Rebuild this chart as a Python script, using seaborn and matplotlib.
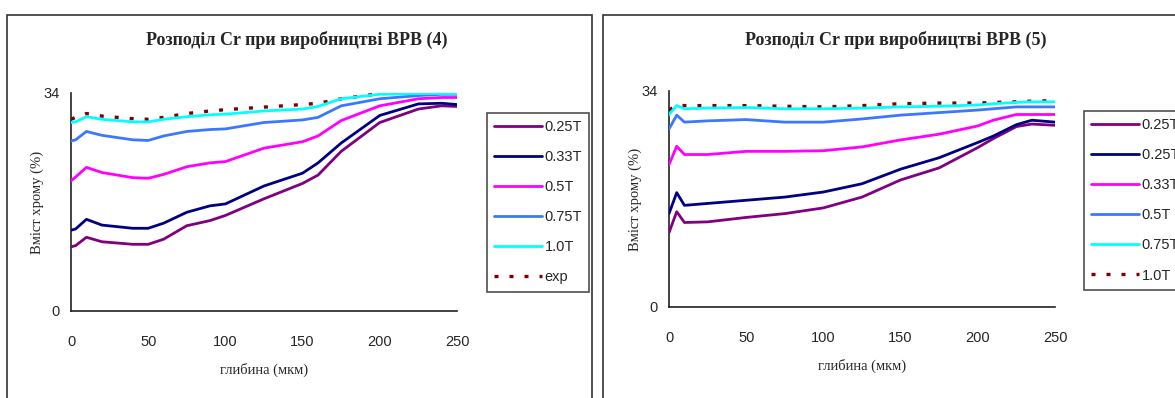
import matplotlib
matplotlib.use("Agg")
import matplotlib.pyplot as plt
from matplotlib.patches import Rectangle
import seaborn as sns
import pandas as pd

sns.set_style("white")
plt.rcParams['font.family'] = ['Liberation Sans', 'DejaVu Sans']

# ---- panel (4) ----
depth_4 = [0, 3, 10, 20, 40, 50, 60, 75, 90, 100, 125, 150, 160, 175, 200, 225, 240, 250]
cr_4 = {
    '0.25T': [10.0, 10.2, 11.5, 10.8, 10.4, 10.4, 11.2, 13.3, 14.1, 14.9, 17.5, 19.9, 21.2, 24.9, 29.4, 31.5, 32.0, 31.9],
    '0.33T': [12.6, 12.8, 14.3, 13.4, 12.9, 12.9, 13.7, 15.4, 16.4, 16.7, 19.5, 21.5, 23.1, 26.2, 30.5, 32.3, 32.4, 32.2],
    '0.5T': [20.3, 20.9, 22.4, 21.6, 20.8, 20.7, 21.3, 22.5, 23.1, 23.3, 25.4, 26.4, 27.3, 29.7, 32.0, 33.1, 33.3, 33.3],
    '0.75T': [26.5, 26.7, 28.0, 27.4, 26.7, 26.6, 27.3, 28.0, 28.3, 28.4, 29.4, 29.8, 30.2, 32.0, 33.1, 33.6, 33.8, 33.8],
    '1.0T': [29.4, 29.5, 30.3, 29.9, 29.5, 29.5, 29.9, 30.3, 30.6, 30.7, 31.2, 31.5, 31.9, 33.1, 33.8, 33.9, 33.9, 33.9],
    'exp': [29.9, 30.2, 30.8, 30.4, 30.0, 29.9, 30.2, 30.8, 31.2, 31.4, 31.8, 32.2, 32.4, 33.1, 33.9, 34.1, 34.1, 34.1],
}

# ---- panel (5) ----
depth_5 = [0, 5, 10, 25, 50, 75, 100, 125, 150, 175, 200, 210, 225, 235, 250]
labels_5 = ['0.25T', '0.25T ', '0.33T', '0.5T', '0.75T', '1.0T']
cr_5 = [
    [11.7, 15.0, 13.3, 13.4, 14.1, 14.7, 15.6, 17.3, 20.0, 21.9, 25.1, 26.5, 28.4, 28.8, 28.6],
    [14.7, 18.0, 16.0, 16.3, 16.8, 17.3, 18.1, 19.4, 21.7, 23.5, 25.9, 26.9, 28.7, 29.4, 29.1],
    [22.4, 25.3, 24.0, 24.0, 24.5, 24.5, 24.6, 25.2, 26.3, 27.2, 28.5, 29.4, 30.3, 30.3, 30.3],
    [28.0, 30.2, 29.1, 29.3, 29.5, 29.1, 29.1, 29.6, 30.2, 30.6, 31.0, 31.2, 31.5, 31.5, 31.5],
    [30.3, 31.7, 31.2, 31.3, 31.4, 31.2, 31.2, 31.3, 31.5, 31.6, 31.8, 32.0, 32.2, 32.3, 32.3],
    [31.0, 31.8, 31.7, 31.7, 31.7, 31.6, 31.5, 31.7, 32.0, 32.1, 32.1, 32.2, 32.3, 32.4, 32.5],
]

colors = ['#800080', '#000080', '#FF00FF', '#3C78FF', '#00FFFF', '#800000']
W, H = 1175, 398

fig = plt.figure(figsize=(W / 100, H / 100), dpi=100)
fig.patch.set_facecolor('white')

# outer chart frames
fig.patches.append(Rectangle((7 / W, -0.1), 585 / W, (H - 15) / H + 0.1, transform=fig.transFigure,
                             fill=False, edgecolor='#333333', linewidth=1.2))
fig.patches.append(Rectangle((603 / W, -0.1), 0.5, (H - 15) / H + 0.1, transform=fig.transFigure,
                             fill=False, edgecolor='#333333', linewidth=1.2))


def draw_panel(ax, depth, names, values, title, title_x, legend_xy):
    for i, (name, vals) in enumerate(zip(names, values)):
        df = pd.DataFrame({'x': depth, 'y': vals})
        if i == 5:
            sns.lineplot(data=df, x='x', y='y', ax=ax, color=colors[i], linewidth=2.4,
                         linestyle=(0, (1.2, 3.3)), label=name, zorder=2)
        else:
            sns.lineplot(data=df, x='x', y='y', ax=ax, color=colors[i], linewidth=2.0,
                         label=name, zorder=3)
    ax.set_xlim(0, 250)
    ax.set_ylim(0, 34)
    ax.set_xticks([0, 50, 100, 150, 200, 250])
    ax.set_yticks([0, 34])
    ax.spines['top'].set_visible(False)
    ax.spines['right'].set_visible(False)
    for s in ['left', 'bottom']:
        ax.spines[s].set_color('#222222')
        ax.spines[s].set_linewidth(1.2)
    ax.tick_params(axis='x', direction='out', length=5, width=1.1, color='#222222', pad=12,
                   labelsize=10.5)
    ax.tick_params(axis='y', direction='out', length=5, width=1.1, color='#222222', pad=3,
                   labelsize=10.5)
    fig.text(title_x / W, 1 - 40 / H, title, family='Liberation Serif', fontweight='bold',
             fontsize=13, ha='center', va='center')
    ax.set_xlabel('глибина (мкм)', family='Liberation Serif', fontsize=10.5, labelpad=10)
    ax.set_ylabel('Вміст хрому (%)', family='Liberation Serif', fontsize=10.5, labelpad=0)
    ax.get_legend().remove()
    h, l = ax.get_legend_handles_labels()
    leg = fig.legend(h, l, loc='upper left', bbox_to_anchor=legend_xy, frameon=True,
                     fancybox=False, edgecolor='#222222', fontsize=10.5, handlelength=3.3,
                     handletextpad=0.15, labelspacing=1.1, borderpad=0.5, borderaxespad=0)
    leg.get_frame().set_linewidth(1.2)


ax1 = fig.add_axes([71 / W, 1 - 311 / H, 386 / W, 218 / H])
draw_panel(ax1, depth_4, list(cr_4.keys()), list(cr_4.values()),
           'Розподіл Cr при виробництві ВРВ (4)', 297, (487 / W, 1 - 113 / H))

ax2 = fig.add_axes([669 / W, 1 - 307 / H, 386 / W, 216 / H])
draw_panel(ax2, depth_5, labels_5, cr_5,
           'Розподіл Cr при виробництві ВРВ (5)', 896, (1084 / W, 1 - 111 / H))

fig.savefig('out.png', dpi=100, facecolor='white')
